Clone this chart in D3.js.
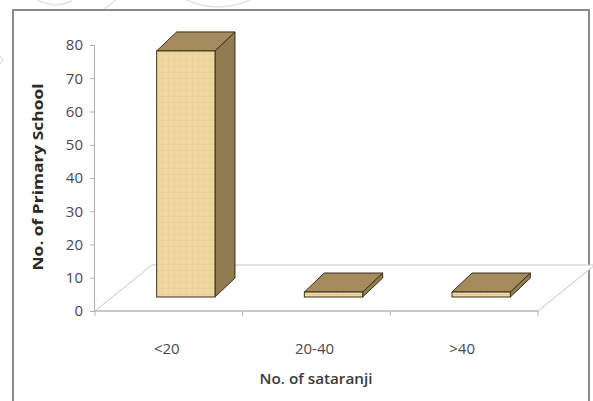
<!DOCTYPE html>
<html>
<head>
<meta charset="utf-8">
<script src="https://cdn.jsdelivr.net/npm/d3@7"></script>
<style>
  html, body { margin: 0; padding: 0; background: #fff; }
  svg { display: block; }
  text { font-family: "Open Sans", Lato, sans-serif; }
</style>
</head>
<body>
<svg id="chart" width="593" height="401"></svg>
<script>
// Number of primary schools by number of sataranji
const categories = ["<20", "20-40", ">40"];
const schools = [74, 1.5, 1.5];
const yTicks = [0, 10, 20, 30, 40, 50, 60, 70, 80];
const yTitle = "No. of Primary School";
const xTitle = "No. of sataranji";

const svg = d3.select("#chart");

// 3D projection: depth offsets for the floor and for the bar slab
const floorDepth = { dx: 57, dy: -46 };
const barFront = { dx: 17, dy: -14 };
const barBack = { dx: 37, dy: -33 };

const x = d3.scaleBand().domain(categories).range([95, 538]).paddingInner(0).paddingOuter(0);
const y = d3.scaleLinear().domain([0, 80]).range([311, 45]);
const barW = x.bandwidth() * 0.395;

// faint decorative arcs near the top edge
const deco = svg.append("g").attr("fill", "none").attr("stroke", "#e3e3e3").attr("stroke-width", 1.5);
deco.append("path").attr("d", "M38,0 Q55,9 72,1");
deco.append("path").attr("d", "M116,0 L104,9");
deco.append("path").attr("d", "M187,0 Q218,14 250,0");
deco.append("path").attr("d", "M0,56 Q5,60 0,64");

// outer frame
svg.append("rect")
  .attr("x", 13).attr("y", 10)
  .attr("width", 576).attr("height", 400)
  .attr("fill", "none").attr("stroke", "#8a8a8a").attr("stroke-width", 2);

// texture for the bar fronts
const defs = svg.append("defs");
const pat = defs.append("pattern").attr("id", "grain")
  .attr("patternUnits", "userSpaceOnUse").attr("width", 6).attr("height", 6);
pat.append("rect").attr("width", 6).attr("height", 6).attr("fill", "#efd79f");
pat.append("path").attr("d", "M0,0.5H6M0.5,0V6").attr("stroke", "#e3c98f").attr("stroke-width", 0.8).attr("opacity", 0.6);

// floor
const x0 = x.range()[0], x1 = x.range()[1], y0 = y(0);
const floorPts = [
  [x0, y0], [x1, y0],
  [x1 + floorDepth.dx, y0 + floorDepth.dy],
  [x0 + floorDepth.dx, y0 + floorDepth.dy]
];
svg.append("path")
  .attr("d", d3.line()(floorPts) + "Z")
  .attr("fill", "#fff").attr("stroke", "#c4c4c4").attr("stroke-width", 1);

// category tick marks along the front edge
svg.append("g").selectAll("line")
  .data(categories.map(c => x(c)).concat([x1]))
  .join("line")
  .attr("x1", d => d).attr("x2", d => d)
  .attr("y1", y0).attr("y2", y0 + 5)
  .attr("stroke", "#b5b5b5");
svg.append("line")
  .attr("x1", x0).attr("x2", x1).attr("y1", y0).attr("y2", y0)
  .attr("stroke", "#b0b0b0");

// y axis
const yAxis = svg.append("g")
  .attr("transform", `translate(${x0 - 1},0)`)
  .call(d3.axisLeft(y).tickValues(yTicks).tickSize(4).tickPadding(7).tickFormat(d3.format("d")));
yAxis.select(".domain").attr("stroke", "#b0b0b0");
yAxis.selectAll(".tick line").attr("stroke", "#b0b0b0");
yAxis.selectAll(".tick text")
  .attr("font-size", 15).attr("fill", "#4a4a4a")
  .style("font-family", "'Open Sans', Lato, sans-serif");

// bars
const stroke = "#3d301c";
const bars = svg.append("g").selectAll("g")
  .data(categories.map((c, i) => ({ c, v: schools[i] })))
  .join("g");

bars.each(function (d) {
  const g = d3.select(this);
  const left = x(d.c) + (x.bandwidth() - barW) / 2 + barFront.dx;
  const right = left + barW;
  const top = y(d.v) + barFront.dy;
  const bottom = y(0) + barFront.dy;
  const ddx = barBack.dx - barFront.dx, ddy = barBack.dy - barFront.dy;
  // right side
  g.append("path")
    .attr("d", d3.line()([[right, top], [right + ddx, top + ddy], [right + ddx, bottom + ddy], [right, bottom]]) + "Z")
    .attr("fill", "#917b53").attr("stroke", stroke).attr("stroke-width", 1).attr("stroke-linejoin", "round");
  // top
  g.append("path")
    .attr("d", d3.line()([[left, top], [left + ddx, top + ddy], [right + ddx, top + ddy], [right, top]]) + "Z")
    .attr("fill", "#a38b5d").attr("stroke", stroke).attr("stroke-width", 1).attr("stroke-linejoin", "round");
  // front
  g.append("rect")
    .attr("x", left).attr("y", top)
    .attr("width", barW).attr("height", bottom - top)
    .attr("fill", "url(#grain)").attr("stroke", stroke).attr("stroke-width", 1);
});

// category labels
svg.append("g").selectAll("text")
  .data(categories)
  .join("text")
  .attr("x", d => x(d) + x.bandwidth() / 2 - 2)
  .attr("y", 354)
  .attr("text-anchor", "middle")
  .attr("font-size", 15).attr("fill", "#4a4a4a")
  .text(d => d);

// axis titles
svg.append("text")
  .attr("x", 316).attr("y", 384)
  .attr("text-anchor", "middle")
  .attr("font-size", 15).attr("font-weight", 600).attr("fill", "#3a3a3a")
  .attr("textLength", 113).attr("lengthAdjust", "spacingAndGlyphs")
  .text(xTitle);

svg.append("text")
  .attr("transform", "translate(43,177) rotate(-90)")
  .attr("text-anchor", "middle")
  .attr("font-size", 14).attr("font-weight", 700).attr("fill", "#2a2a2a")
  .attr("textLength", 187).attr("lengthAdjust", "spacingAndGlyphs")
  .text(yTitle);
</script>
</body>
</html>
